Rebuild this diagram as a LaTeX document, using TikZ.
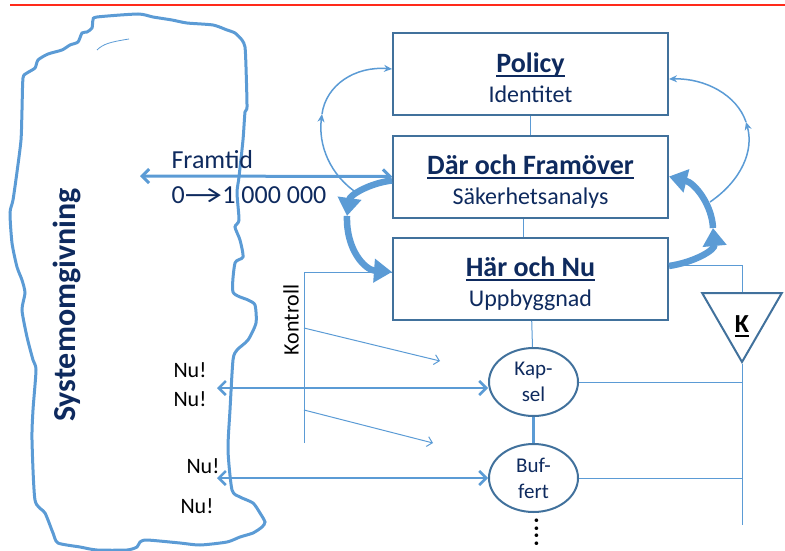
\documentclass[tikz,border=0pt]{standalone}
\usepackage{fontspec}
\setmainfont{Carlito}
\usetikzlibrary{arrows.meta,shapes.geometric}
\definecolor{lineblue}{HTML}{5B9BD5}
\definecolor{boxblue}{HTML}{41719C}
\definecolor{navy}{HTML}{0E2A5E}
\definecolor{headred}{HTML}{FF2A1A}
\newsavebox\ulsave
\newcommand{\ulbox}[1]{\sbox\ulsave{#1}\rlap{\rule[-4.5pt]{\wd\ulsave}{2pt}}\usebox\ulsave}
\newcommand{\layertext}[2]{{\fontsize{28}{30}\selectfont\bfseries\rule{0pt}{30pt}\ulbox{#1}}\\#2\vphantom{y}}
\tikzset{
  layer/.style={draw=boxblue,line width=2pt,minimum width=275pt,minimum height=82pt,inner sep=0pt,align=center,text=navy,font=\fontsize{24}{30}\selectfont},
  oval/.style={ellipse,draw=boxblue,line width=2pt,minimum width=89pt,minimum height=68pt,inner sep=0pt,align=center,text=navy,font=\fontsize{21}{26}\selectfont},
  wire/.style={draw=lineblue,line width=1pt},
  flow/.style={draw=lineblue,line width=2.5pt},
  barbs/.style={{Straight Barb[length=7pt,width=14pt]}-{Straight Barb[length=7pt,width=14pt]}},
  loopline/.style={draw=lineblue,line width=1.5pt,-{Stealth[length=8pt,width=7pt]}},
  swing/.style={draw=lineblue,line width=6.5pt,-{Triangle[length=18pt,width=23pt]}},
  lbl/.style={font=\fontsize{22}{26}\selectfont}
}
\begin{document}
\begin{tikzpicture}[x=1pt,y=-1pt]
\useasboundingbox (0,0) rectangle (785,551);
\draw[headred,line width=1.5pt] (10,5) -- (785,5);

% surroundings
\draw[lineblue,line width=3pt] plot[smooth cycle,tension=0.4] coordinates {
  (97,17) (138,14) (153,17) (172,20) (187,23) (213,25) (227,30) (235,33) (242,40) (245,47)
  (246,67) (247,107) (245,112) (243,140) (239,177) (237,193) (239,220) (235,227) (240,240)
  (243,257) (235,263) (233,292) (248,300) (255,305) (256,323) (248,340) (237,350) (233,360)
  (230,410) (228,450) (232,490) (240,497) (253,503) (260,513) (265,522) (262,527) (253,533)
  (240,537) (227,542) (200,545) (180,543) (147,540) (140,542) (137,547) (127,550) (97,550)
  (80,547) (58,543) (53,533) (45,513) (35,500) (32,440) (33,410) (36,370) (33,360) (27,337)
  (22,310) (25,293) (22,280) (17,267) (12,243) (10,213) (13,200) (17,172) (21,140) (22,110)
  (23,78) (27,73) (35,68) (38,60) (48,54) (62,50) (70,45) (78,42) (82,33) (87,32) (92,28) (93,20)};
\draw[lineblue,line width=0.8pt] (97,50) .. controls (103,44) and (110,42) .. (129,39);
\node[rotate=90,text=navy,font=\fontsize{32}{32}\selectfont\bfseries] (env) at (67,305) {Systemomgivning};

% layers
\node[layer] (policy) at (530.5,74) {\layertext{Policy}{Identitet}};
\node[layer] (dar) at (530.5,176.5) {\layertext{Där och Framöver}{Säkerhetsanalys}};
\node[layer] (har) at (530.5,279) {\layertext{Här och Nu}{Uppbyggnad}};
\draw[wire] (policy) -- (dar);
\draw[wire] ([xshift=-7pt]dar.south) -- ([xshift=-7pt]har.north);

\node[oval] (kapsel) at (533.5,382) {Kap-\\sel};
\node[oval] (buffert) at (533.5,478) {Buf-\\fert};
\node[rotate=90,font=\fontsize{30}{30}\selectfont] (more) at (537,532) {....};
\draw[wire] (har) -- (kapsel);
\draw[flow] (kapsel) -- (buffert);

% K
\node[regular polygon,regular polygon sides=3,shape border rotate=180,draw=boxblue,line width=2pt,minimum size=92pt,inner sep=0pt] (kgate) at (742,316) {};
\node[anchor=base,font=\fontsize{26}{26}\selectfont\bfseries] (ktext) at (742,332) {\ulbox{K}};
\coordinate (kend) at (742,525);
\draw[wire] ([yshift=14pt]har.east) -| (kgate.north);
\draw[wire] (kgate.south) -- (kend);
\draw[wire] (kapsel.east) -- (kapsel.east -| kend);
\draw[wire] (buffert.east) -- (buffert.east -| kend);

% loops
\coordinate (dmid) at (347,216);
\coordinate (hmid) at (713,228);
\draw[swing] ([yshift=-4pt]dar.west) .. controls (370,183) and (350,195) .. (dmid);
\draw[swing] (dmid) .. controls (346,250) and (365,270) .. ([yshift=7pt]har.west);
\draw[swing] ([yshift=13pt]har.east) .. controls (695,262) and (715,250) .. (hmid);
\draw[swing] (hmid) .. controls (712,205) and (695,183) .. (dar.east);
\coordinate (lstart) at (357,193);
\coordinate (lmid) at (322,114);
\draw[loopline] (lstart) .. controls (330,175) and (318,145) .. (lmid);
\draw[loopline] (lmid) .. controls (326,85) and (355,66) .. ([yshift=5pt]policy.west);
\coordinate (rstart) at (710,202);
\coordinate (rmid) at (746,122);
\draw[loopline] (rstart) .. controls (742,180) and (754,150) .. (rmid);
\draw[loopline] (rmid) .. controls (737,95) and (705,78) .. ([yshift=-5pt]policy.east);

% outward
\coordinate (envf) at (140,176);
\draw[flow,line width=3pt,barbs] (envf) -- (dar.west);
\node[anchor=base west,text=navy,font=\fontsize{26}{30}\selectfont] (framtid) at (168,168) {Framtid};
\node[anchor=base west,text=navy,font=\fontsize{26}{30}\selectfont] (range) at (168,203) {0\scalebox{1.6}[1]{→}1 000 000};
\coordinate (envk) at (217,388);
\coordinate (envb) at (217,478);
\draw[flow,barbs] (envk) -- (envk -| kapsel.west);
\draw[flow,barbs] (envb) -- (buffert.west);
\node[lbl,anchor=base west] (nua) at (170,377) {Nu!};
\node[lbl,anchor=base west] (nub) at (170,406) {Nu!};
\node[lbl,anchor=base west] (nuc) at (183,473) {Nu!};
\node[lbl,anchor=base west] (nud) at (177,513) {Nu!};

% control
\coordinate (ktrtop) at (304,272);
\coordinate (ktrbot) at (304,443);
\draw[wire] (ktrbot) -- (ktrtop) -- (ktrtop -| har.west);
\coordinate (ka) at (304,328);
\coordinate (kb) at (304,410);
\draw[wire,-{Straight Barb[length=5pt,width=10pt]}] (ka) -- (440,361);
\draw[wire,-{Straight Barb[length=5pt,width=10pt]}] (kb) -- (433,443);
\node[lbl,rotate=90] (kontroll) at (291,320) {Kontroll};
\end{tikzpicture}
\end{document}
